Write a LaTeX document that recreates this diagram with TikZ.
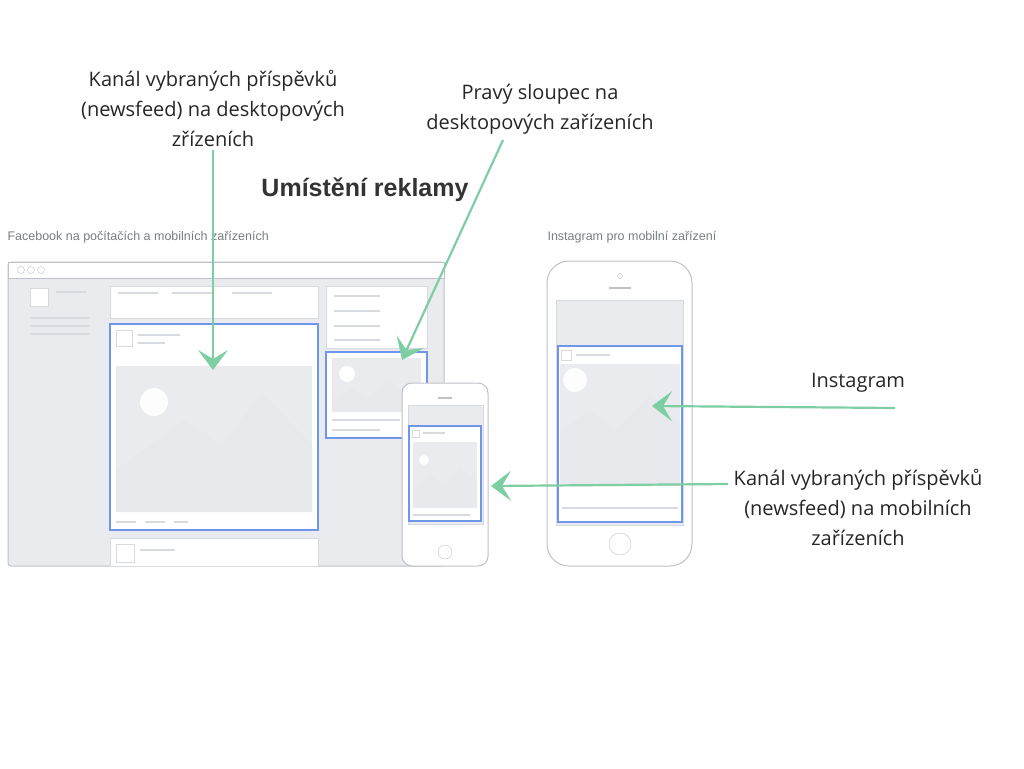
\documentclass[tikz,border=0pt]{standalone}
\usepackage{fontspec}
\setmainfont{Open Sans}
\newfontfamily\heros{Liberation Sans}
\usetikzlibrary{arrows.meta,positioning}
\definecolor{arrowgreen}{RGB}{126,206,163}
\definecolor{framegray}{RGB}{190,193,199}
\definecolor{panegray}{RGB}{233,235,238}
\definecolor{linegray}{RGB}{215,218,223}
\definecolor{adblue}{RGB}{110,150,235}
\definecolor{capgray}{RGB}{120,125,132}
\tikzset{
  label/.style={align=center,font=\fontsize{20}{30}\selectfont,text=black!85},
  caption/.style={anchor=west,font=\heros\fontsize{12.5}{14}\selectfont,text=capgray},
  pointer/.style={draw=arrowgreen,line width=2.2pt,-{Stealth[length=20pt,width=30pt,inset=9pt]}},
  adbox/.style={draw=adblue,line width=1.3pt,fill=white},
  card/.style={draw=linegray,fill=white},
  bar/.style={draw=linegray,line width=2pt}
}
\begin{document}
\begin{tikzpicture}[x=1pt,y=-1pt]
\useasboundingbox (0,0) rectangle (1024,768);

% headings
\node (title) at (365,190) {\heros\bfseries\fontsize{25}{28}\selectfont\color{black!80}Umístění reklamy};
\node[caption] (fbcap) at (4,237) {Facebook na počítačích a mobilních zařízeních};
\node[caption] (igcap) at (544,237) {Instagram pro mobilní zařízení};

% desktop window
\draw[framegray,fill=panegray,line width=1pt,rounded corners=3pt] (8,262) rectangle (444,566);
\draw[framegray,fill=white,line width=1pt] (8,262) rectangle (444,278);
\foreach \cx in {21,31,41}
  \draw[framegray] (\cx,270) circle (3.5);
\draw[card] (30,288) rectangle (48,306);
\draw[bar] (56,292) -- (86,292);
\foreach \ly in {318,326,334}
  \draw[bar] (30,\ly) -- (90,\ly);
\draw[card] (110,286) rectangle (318,318);
\foreach \bx in {118,172,232}
  \draw[bar] (\bx,293) -- (\bx+40,293);
\draw[card] (326,286) rectangle (427,348);
\foreach \ly in {296,311,326,340}
  \draw[bar] (334,\ly) -- (380,\ly);
\draw[card] (110,538) rectangle (318,566);
\draw[card] (116,544) rectangle (134,562);
\draw[bar] (140,550) -- (175,550);

% desktop newsfeed ad
\draw[adbox] (110,324) rectangle (318,530);
\draw[card] (116,330) rectangle (132,346);
\draw[bar] (138,335) -- (180,335);
\draw[bar] (138,343) -- (165,343);
\fill[panegray] (116,366) rectangle (312,512);
\fill[white!90!panegray] (154,402) circle (14);
\fill[linegray!60] (116,512) -- (116,470) -- (185,420) -- (222,445) -- (262,393) -- (312,445) -- (312,512) -- cycle;
\draw[bar] (116,522) -- (136,522) (145,522) -- (165,522) (174,522) -- (188,522);

% desktop right column ad
\draw[adbox] (326,352) rectangle (427,438);
\fill[panegray] (332,358) rectangle (421,412);
\fill[white] (347,374) circle (8);
\fill[linegray!60] (332,412) -- (332,400) -- (352,388) -- (368,398) -- (388,380) -- (421,405) -- (421,412) -- cycle;
\draw[bar] (332,420) -- (400,420) (332,430) -- (380,430);

% small phone
\draw[framegray,fill=white,line width=1pt,rounded corners=10pt] (402,383) rectangle (488,566);
\draw[framegray,line width=1.5pt] (438,398) -- (452,398);
\draw[linegray,fill=panegray] (408,405) rectangle (483,524);
\draw[adbox] (409,426) rectangle (481,521);
\draw[card] (412,430) rectangle (419,437);
\draw[bar,line width=1.2pt] (423,433) -- (445,433);
\fill[panegray] (413,442) rectangle (477,508);
\fill[white] (424,460) circle (5);
\fill[linegray!60] (413,508) -- (413,490) -- (430,475) -- (445,485) -- (460,468) -- (477,482) -- (477,508) -- cycle;
\draw[bar,line width=1.2pt] (413,515) -- (470,515);
\draw[framegray] (445,552) circle (7);

% big phone
\draw[framegray,fill=white,line width=1pt,rounded corners=22pt] (547,261) rectangle (692,566);
\draw[framegray] (620,276) circle (2.5);
\draw[framegray,line width=1.5pt] (609,288) -- (631,288);
\draw[linegray,fill=panegray] (556,300) rectangle (683,525);
\draw[adbox] (558,346) rectangle (682,522);
\draw[card] (561,350) rectangle (571,360);
\draw[bar] (576,355) -- (610,355);
\fill[panegray] (560,364) rectangle (680,486);
\fill[white!90!panegray] (575,380) circle (12);
\fill[linegray!60] (560,486) -- (560,432) -- (590,410) -- (615,430) -- (650,395) -- (680,425) -- (680,486) -- cycle;
\draw[bar] (562,508) -- (678,508);
\draw[framegray] (620,544) circle (11);

% labels
\node[label] (deskfeed) at (213,108) {Kanál vybraných příspěvků\\(newsfeed) na desktopových\\zřízeních};
\node[label] (rightcol) at (540,109) {Pravý sloupec na\\desktopových zařízeních};
\node[label] (insta) at (858,383) {Instagram};
\node[label] (mobfeed) at (858,507) {Kanál vybraných příspěvků\\(newsfeed) na mobilních\\zařízeních};

% pointer ends
\coordinate (deskfeedtip) at (213,370);
\coordinate (rightcoltip) at (402,360);
\coordinate (instastart) at (895,408);
\coordinate (instatip) at (652,406);
\coordinate (mobfeedstart) at (728,484);
\coordinate (mobfeedtip) at (491,486);

\draw[pointer] (213,150) -- (deskfeedtip);
\draw[pointer] (503,140) -- (rightcoltip);
\draw[pointer] (instastart) -- (instatip);
\draw[pointer] (mobfeedstart) -- (mobfeedtip);
\end{tikzpicture}
\end{document}
